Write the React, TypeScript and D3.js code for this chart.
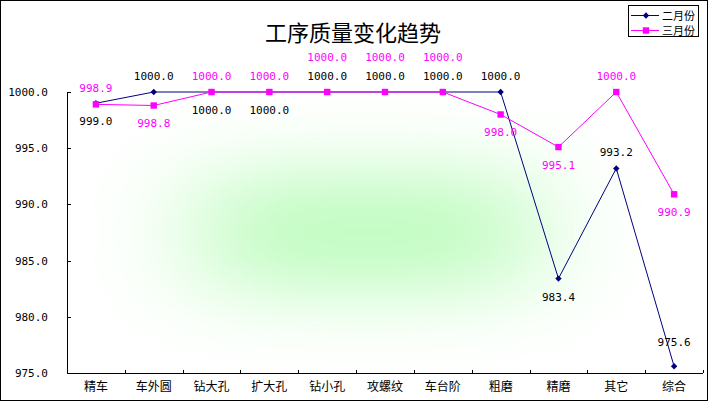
import React from "react";
import * as d3 from "d3";

const categories = ["精车", "车外圆", "钻大孔", "扩大孔", "钻小孔", "攻螺纹", "车台阶", "粗磨", "精磨", "其它", "综合"];
const febValues = [999.0, 1000.0, 1000.0, 1000.0, 1000.0, 1000.0, 1000.0, 1000.0, 983.4, 993.2, 975.6];
const marValues = [998.9, 998.8, 1000.0, 1000.0, 1000.0, 1000.0, 1000.0, 998.0, 995.1, 1000.0, 990.9];
const febLabelPos = ["below", "above", "below", "below", "above", "above", "above", "above", "below", "above", "above"];
const marLabelPos = ["above", "below", "above", "above", "high", "high", "high", "below", "below", "above", "below"];
const yTicks = [975, 980, 985, 990, 995, 1000];
const seriesNames = ["二月份", "三月份"];

const W = 708;
const H = 401;
const left = 67;
const right = 703;
const top = 92;
const bottom = 373;
const FEB = "#000080";
const MAR = "#FF00FF";
const MONO = "'DejaVu Sans Mono', 'Liberation Mono', monospace";
const CJK = "'Noto Sans CJK SC', sans-serif";

export default function App() {
  const x = d3.scaleBand<string>().domain(categories).range([left, right]);
  const y = d3.scaleLinear().domain([975, 1000]).range([bottom, top]);
  const cx = (c: string) => (x(c) as number) + x.bandwidth() / 2;
  const line = d3
    .line<number>()
    .x((_, i) => cx(categories[i]))
    .y((v) => y(v));
  const fmt = d3.format(".1f");
  const offs: Record<string, number> = { above: -12, below: 22, high: -31 };
  const labelX = (px: number, txt: string) => {
    const w = txt.length * 6.62;
    return Math.min(px, 701 - w / 2);
  };
  const diamond = (px: number, py: number, r = 3.2) =>
    `M${px},${py - r}L${px + r},${py}L${px},${py + r}L${px - r},${py}Z`;

  return (
    <div style={{ position: "absolute", left: 0, top: 0 }}>
      <svg width={W} height={H} style={{ display: "block" }}>
        <defs>
          <filter id="blur" filterUnits="userSpaceOnUse" x={0} y={0} width={W} height={H}>
            <feGaussianBlur stdDeviation="58 38" />
          </filter>
          <clipPath id="plotClip">
            <rect x={left} y={top - 12} width={right - left} height={bottom - top + 12} />
          </clipPath>
        </defs>
        <rect x={0} y={0} width={W} height={H} fill="#ffffff" />
        <g clipPath="url(#plotClip)">
          <rect x={200} y={172} width={334} height={120} fill="#c0fcc0" filter="url(#blur)" />
        </g>
        <rect x={0.5} y={0.5} width={W - 1} height={H - 1} fill="none" stroke="#000" strokeWidth={1} />

        <text x={353} y={41} textAnchor="middle" fontFamily={CJK} fontSize={22} fill="#000">
          工序质量变化趋势
        </text>

        {/* axes */}
        <line x1={left + 0.5} y1={top} x2={left + 0.5} y2={bottom} stroke="#000" />
        <line x1={left} y1={bottom + 0.5} x2={right} y2={bottom + 0.5} stroke="#000" />
        {yTicks.map((t) => (
          <g key={t}>
            <line x1={left} x2={left + 4} y1={Math.round(y(t)) + 0.5} y2={Math.round(y(t)) + 0.5} stroke="#000" />
            <text x={48} y={y(t) + 4} textAnchor="end" fontFamily={MONO} fontSize={11} fill="#000">
              {fmt(t)}
            </text>
          </g>
        ))}
        {categories.map((c) => {
          const tx = Math.round((x(c) as number) + x.bandwidth()) + 0.5;
          return (
            <g key={c}>
              <line x1={tx} x2={tx} y1={bottom - 3} y2={bottom} stroke="#000" />
              <text x={cx(c)} y={391} textAnchor="middle" fontFamily={CJK} fontSize={12} fill="#000">
                {c}
              </text>
            </g>
          );
        })}

        {/* series 二月份 */}
        <path d={line(febValues) || ""} fill="none" stroke={FEB} strokeWidth={1} />
        {febValues.map((v, i) => (
          <path key={i} d={diamond(cx(categories[i]), y(v))} fill={FEB} />
        ))}
        {/* series 三月份 */}
        <path d={line(marValues) || ""} fill="none" stroke={MAR} strokeWidth={1} />
        {marValues.map((v, i) => (
          <rect key={i} x={cx(categories[i]) - 3.2} y={y(v) - 3.2} width={6.4} height={6.4} fill={MAR} />
        ))}

        {/* labels */}
        {febValues.map((v, i) => {
          const t = fmt(v);
          return (
            <text
              key={"f" + i}
              x={labelX(cx(categories[i]), t)}
              y={y(v) + offs[febLabelPos[i]] + (i === 10 ? -8 : 0)}
              textAnchor="middle"
              fontFamily={MONO}
              fontSize={11}
              fill="#000"
            >
              {t}
            </text>
          );
        })}
        {marValues.map((v, i) => {
          const t = fmt(v);
          return (
            <text
              key={"m" + i}
              x={labelX(cx(categories[i]), t)}
              y={y(v) + offs[marLabelPos[i]]}
              textAnchor="middle"
              fontFamily={MONO}
              fontSize={11}
              fill={MAR}
            >
              {t}
            </text>
          );
        })}

        {/* legend */}
        <rect x={628.5} y={5.5} width={70} height={31} fill="#fff" stroke="#000" />
        <line x1={631} x2={659} y1={15.5} y2={15.5} stroke={FEB} />
        <path d={diamond(646, 15.5)} fill={FEB} />
        <text x={662} y={19.5} fontFamily={CJK} fontSize={11} fill="#000">
          {seriesNames[0]}
        </text>
        <line x1={631} x2={659} y1={30.5} y2={30.5} stroke={MAR} />
        <rect x={642.8} y={27.3} width={6.4} height={6.4} fill={MAR} />
        <text x={662} y={34.5} fontFamily={CJK} fontSize={11} fill="#000">
          {seriesNames[1]}
        </text>
      </svg>
    </div>
  );
}
